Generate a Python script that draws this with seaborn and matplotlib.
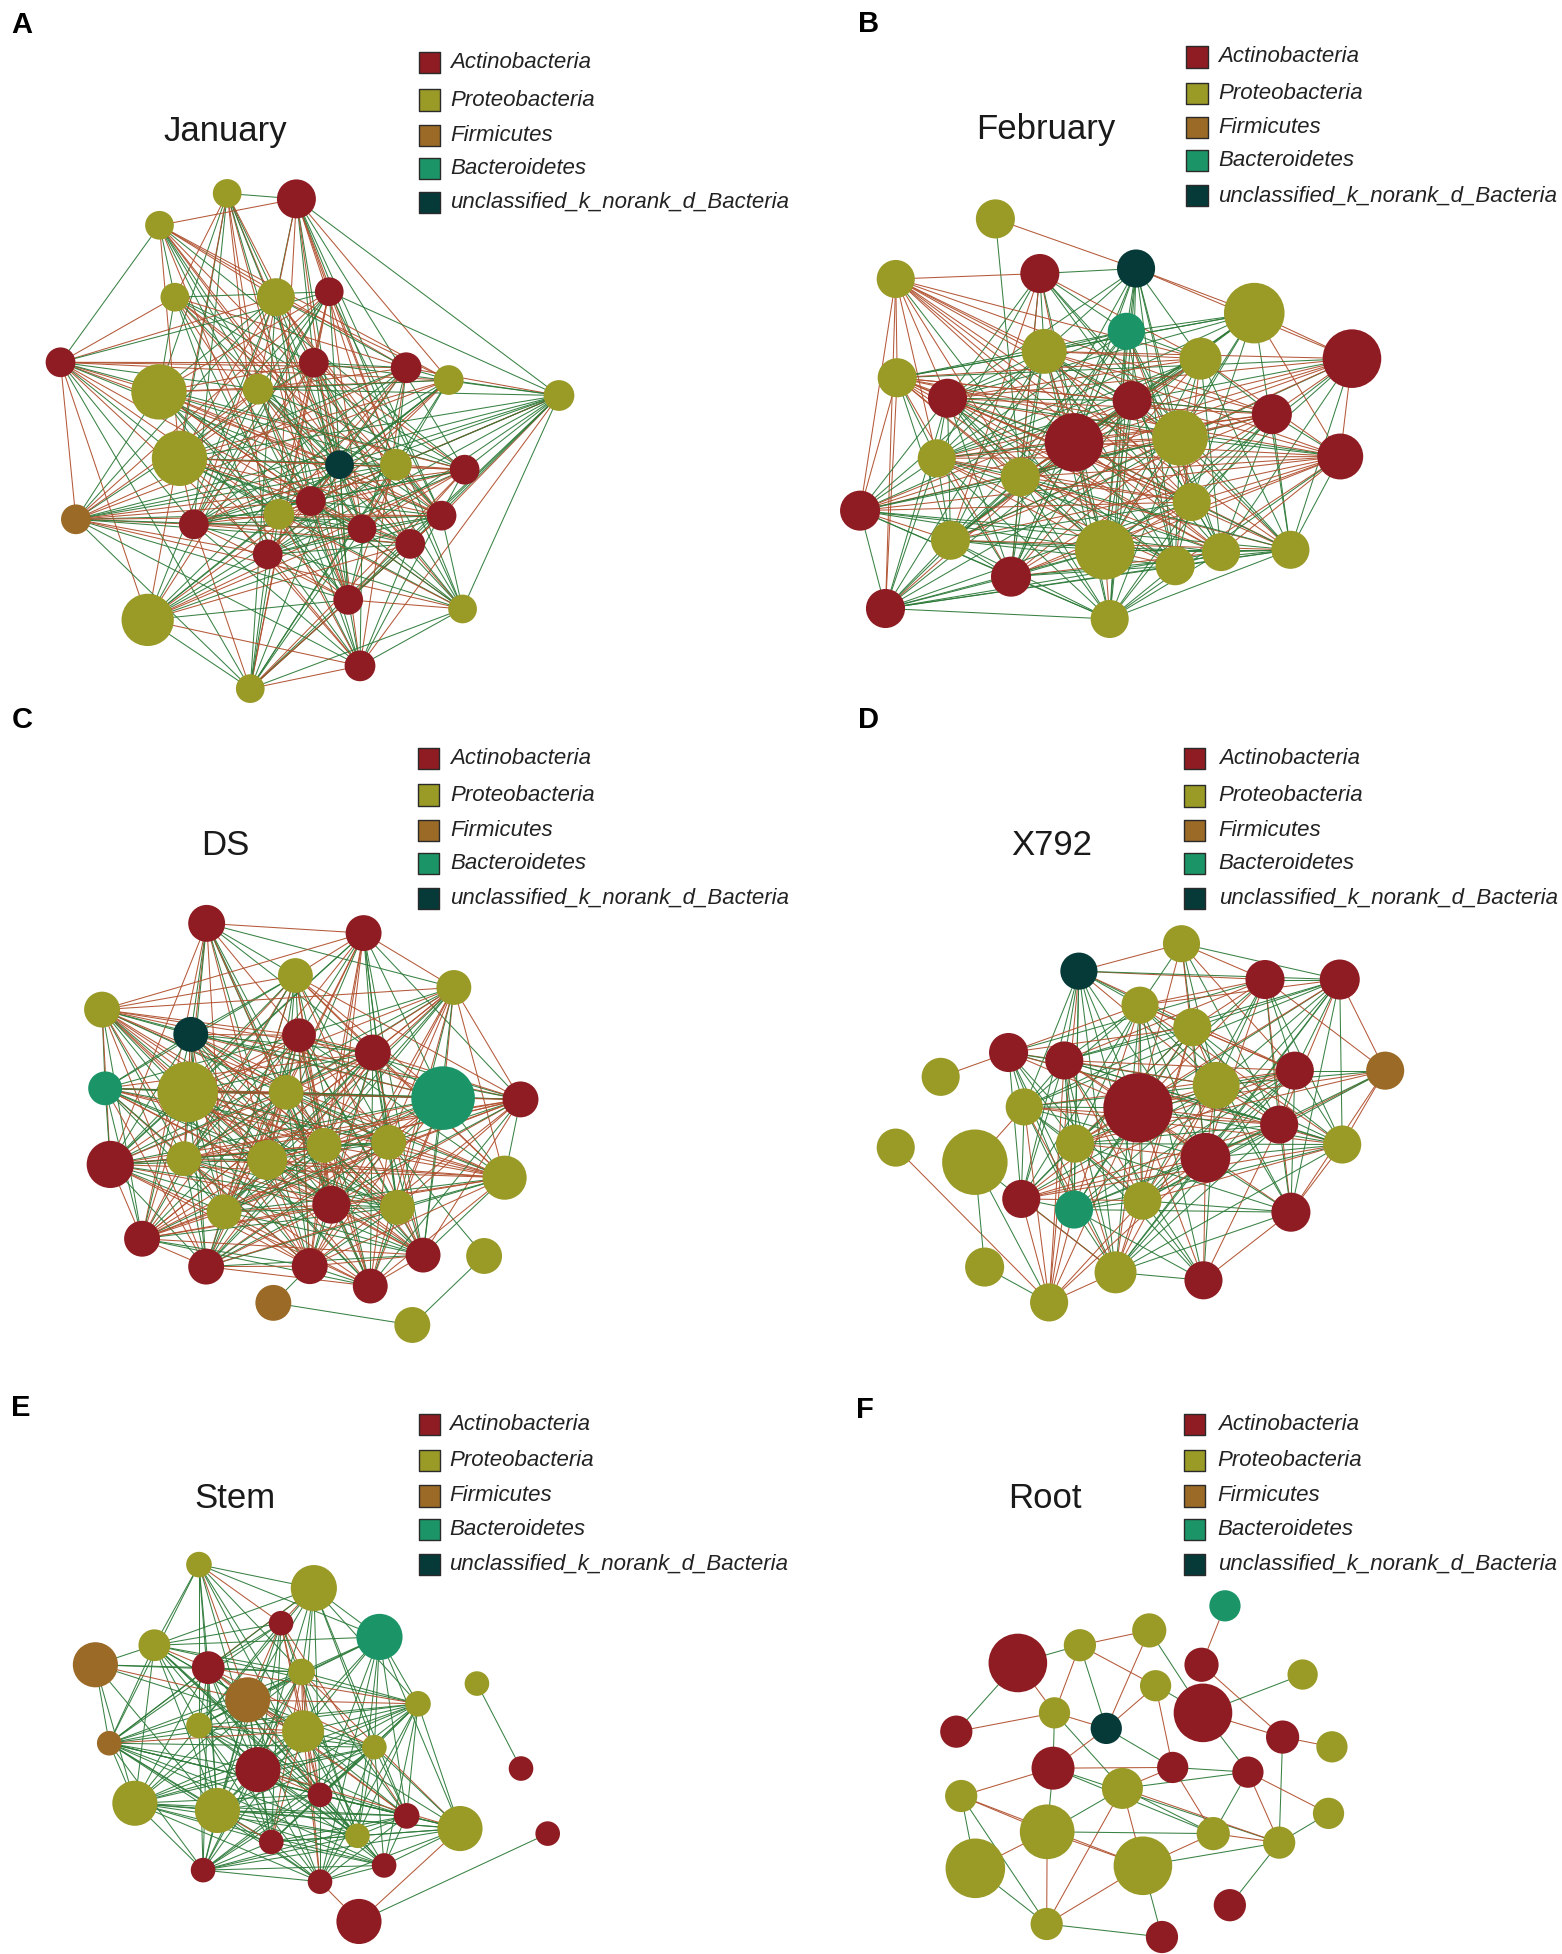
import numpy as np
import pandas as pd
import matplotlib
matplotlib.use("Agg")
import matplotlib.pyplot as plt
from matplotlib.collections import LineCollection
import seaborn as sns

sns.set_theme(style="white")
plt.rcParams['font.family'] = ['Liberation Sans', 'DejaVu Sans']

# ---------------- legend / categories ----------------
phyla = ["Actinobacteria", "Proteobacteria", "Firmicutes", "Bacteroidetes",
         "unclassified_k_norank_d_Bacteria"]
phylum_codes = ["A", "P", "F", "B", "U"]
phylum_colors = ["#8E1C22", "#9A9A27", "#9A6A26", "#1B9568", "#053A38"]
edge_colors = {"r": "#B0502E", "g": "#2E7B3A"}

panel_letters = ["A", "B", "C", "D", "E", "F"]
panel_titles = ["January", "February", "DS", "X792", "Stem", "Root"]

# ---------------- panel A : January ----------------
a_x = [443, 578, 311, 341, 538, 642, 118, 612, 792, 875, 1090, 310, 503, 350, 662,
       772, 906, 148, 378, 544, 606, 706, 861, 800, 522, 679, 902, 288, 702, 488]
a_y = [425, 437, 495, 653, 653, 641, 796, 797, 808, 835, 869, 861, 855, 1007, 1021,
       1021, 1032, 1141, 1152, 1130, 1101, 1162, 1133, 1195, 1218, 1318, 1338, 1362, 1463, 1513]
a_d = [56, 76, 56, 56, 74, 56, 58, 58, 60, 58, 60, 108, 60, 108, 56,
       62, 58, 58, 58, 60, 58, 56, 58, 58, 58, 58, 56, 102, 60, 56]
a_phy = list("PAPPPAAAAPPPPPUPAFAPAAAAAAPPAP")
a_edges = """
0: 1g 3r 4g 7r 11g 12r 13g 14r 18g 20r 21g 24r 25g 27r
1: 2r 4g 5r 7g 9r 10g 12r 14g 15r 16g 19r 22g 23r 26g 28r
2: 3g 4r 6g 8r 9r 12g 13r 14r 16g 19r 21g 22r 23r 25g
3: 5g 6r 7g 8r 11g 12r 14g 15r 16g 20r 22r 24g 28g
4: 6r 8g 9r 11g 13r 14g 15r 17g 18r 20g 22r 23g 25r 27g 29g
5: 6g 7r 10g 11r 12g 13g 15r 17r 18g 21r 22g 24r 25g 27g 29r
6: 7r 8r 9r 11r 12g 13g 14r 16g 17r 18g 19r 20r 22g 24r 27r 29g
7: 8g 10g 11r 13r 14g 16r 17g 18r 21r 22g 23r 25g 26g 27r 29r
8: 9g 10r 12r 13g 15g 17r 18g 19r 20g 24r 25g 27g 28r
9: 10g 11r 12g 13r 14g 17r 18g 19g 20r 21g 24r 27g 29g
10: 12g 13g 14g 15r 16g 17g 18g 19r 20g 21g 22r 23g 24g 25g 26g 28r 29g
11: 12r 14r 15g 16r 17g 19g 20r 21g 22r 23g 25g 26r 28g
12: 13r 14g 16g 17r 18g 20g 21r 22g 23r 25r 26g 28g
13: 14r 15g 16r 18r 19g 20r 21g 22r 23g 25r 26g 28r
14: 15g 16r 17g 18r 19g 20r 21g 22r 24r 25g 26r 27g 29g
15: 16r 17g 18g 19r 21r 22g 24g 25r 26g 27g 29g
16: 17r 18g 19r 20g 21r 24g 25r 27r 28g 29r
17: 18r 19g 20r 21g 22r 23g 24r 25g 26r 28g 29g
18: 19r 20g 21r 22g 23r 25r 26g 28g 29r
19: 20r 21g 22r 23g 25g 26r 28r 29g
20: 21r 22g 23r 25r 26g 27r 28g
21: 22g 23r 24g 26g 27r 28g 29g
22: 23r 24g 25r 26g 27g 29r
23: 24g 25r 26g 27r 28g 29g
24: 25r 27g 28r 29g
25: 26r 27g 28g 29r
26: 28g 29g
27: 28r 29g
28: 29r
"""

# ---------------- panel B : February ----------------
b_x = [400, 688, 491, 196, 930, 668, 1130, 500, 820, 199, 302, 680, 966, 561,
       778, 1106, 280, 451, 802, 123, 308, 624, 862, 768, 1004, 432, 175, 634]
b_y = [481, 590, 601, 613, 688, 728, 788, 772, 788, 830, 875, 880, 910, 972,
       962, 1003, 1007, 1048, 1103, 1122, 1187, 1208, 1213, 1243, 1208, 1267, 1337, 1360]
b_d = [80, 78, 80, 78, 124, 76, 120, 92, 86, 80, 80, 80, 82, 120,
       114, 94, 78, 80, 78, 82, 80, 122, 78, 80, 78, 82, 80, 78]
b_phy = list("PUAPPBAPPPAAAAPAPPPAPPPPPAAP")
b_edges = """
0: 1r 17g
1: 2g 4r 5g 6r 7g 8g 10g 11g 13g 14g 17g 18g 21g 23g 25g 27g
2: 3r 5g 7g 8r 10g 11g 13r 14g 16g 17g 20r 21g 24g 25r
3: 7r 8r 9r 10r 11r 12r 13r 14r 16r 17r 18r 19r 21g 22r 24r 26r
4: 5g 6r 7g 9g 10g 11r 13g 14g 15r 16g 17g 18g 20g 21g 24g
5: 7g 8g 9g 10g 13g 14g 16g 17g 18r 20g 21g 22g 23g 25g 27g
6: 7r 9g 10r 11g 12r 13r 14g 15r 16r 17r 18g 20r 21g 22g 24g
7: 8r 9g 10g 11g 12r 13g 14g 15r 16g 17g 18r 19g 20g 21r 22g 23g 25g 26g 27g
8: 9r 10r 11g 12g 13g 14g 15r 16g 17r 19g 20r 21g 22g 23r 24g 25r 26g
9: 10r 11r 12r 13r 14r 15r 16g 17r 18r 19r 20g 21r 22r 23r 25r 26r
10: 11g 12r 13g 14r 15g 16g 17g 18r 19g 20g 21g 22r 23g 24r 25g 26g 27g
11: 12g 13g 14g 15r 16g 17r 18g 19r 20g 21g 22g 23g 24r 25g 27g
12: 13r 14g 15g 16r 17r 18g 19r 20r 21g 22g 24g 25r 27g
13: 14r 15r 16g 17r 18g 19r 20g 21g 22r 23g 24r 25g 26r 27g
14: 15g 16r 17g 18r 19g 20g 21r 22g 23g 24g 25r 26g 27g
15: 16r 17r 18r 19r 20r 21r 22r 23r 24g 25r 27g
16: 17g 18r 19g 20g 21r 22g 23r 24r 25g 26g 27g
17: 18r 19g 20g 21g 22r 23g 24g 25g 26g 27g
18: 19r 20g 21r 22g 23g 24g 25r 26g 27g
19: 20r 21g 22g 24g 25g 26g 27g
20: 21g 22g 23g 24r 25g 26g 27g
21: 22g 23r 24g 25g 26g 27r
22: 23g 24g 25r 26g 27g
23: 24g 25g 26g 27g
24: 25g 26g 27g
25: 26g 27g
26: 27g
"""

# ---------------- panel C : DS ----------------
c_x = [403, 709, 576, 885, 199, 372, 583, 727, 205, 366, 558, 864, 1015, 215, 359,
       521, 632, 758, 984, 437, 646, 775, 277, 402, 604, 825, 722, 944, 533, 804]
c_y = [505, 527, 623, 650, 700, 756, 758, 797, 878, 886, 887, 900, 903, 1050, 1037,
       1040, 1007, 1000, 1080, 1157, 1141, 1147, 1218, 1281, 1280, 1255, 1325, 1257, 1363, 1413]
c_d = [72, 70, 68, 68, 70, 68, 66, 70, 66, 118, 68, 124, 70, 92, 68,
       78, 68, 68, 86, 68, 74, 68, 70, 70, 70, 68, 68, 70, 70, 70]
c_phy = list("AAPPPUAABPPBAAPPPPPPAPAAAAAPFP")
c_edges = """
0: 1r 2g 3g 5g 6r 7g 9r 10g 13r 14g 15r 16g 19r 20g 22r 24g 26r
1: 2r 3r 4r 6g 7g 9g 10r 11g 12g 13g 14r 15g 16r 17g 19r 20r 21g 24r 25g
2: 4r 5g 7r 8g 9r 10g 11r 12r 13g 14r 15g 16r 17g 18r 19g 20r 22g 23r 24g 25r 26g
3: 4r 6g 7r 9r 10g 11r 12r 13g 14r 15r 16g 17r 18r 19g 20r 21g 22r 23g 24r 25g 26r
4: 5g 6r 7r 8g 9r 10r 11g 12r 13r 14g 15r 16r 17g 18r 19r 20g 21r 22g 23r 24g 25r 26g
5: 6r 7g 8g 9g 10r 11r 12g 13g 14r 15g 16r 17g 18r 19r 20g 21r 22g 23g 24r 25g
6: 7r 8g 9r 10g 11r 12g 13r 14g 15r 16g 17r 18g 19r 20r 21g 22r 23g 24r 25g 26r
7: 8r 9g 10r 11g 12r 13g 14r 15g 16r 17g 18r 19g 20r 21g 22r 23r 24g 25r 26g
8: 9g 10r 11r 12g 13g 14r 15g 16r 17g 18r 19g 20r 21g 22g 23r 24g 25r
9: 10r 11g 12r 13g 14r 15g 16r 17g 18r 19g 20r 21g 22r 23g 24r 25r 26g
10: 11r 12g 13r 14g 15r 16g 17r 18g 19r 20g 21r 22g 23r 24g 25r 26g
11: 12r 13g 14r 15g 16r 17r 18g 19r 20g 21r 22g 23r 24r 25g 26r
12: 13r 14r 15r 16r 17g 18g 19r 20r 21r 22r 23g 24r 25r 26g
13: 14r 15g 16r 17g 18r 19g 20r 21g 22r 23g 24r 25g 26r
14: 15g 16r 17g 18r 19g 20r 21g 22r 23g 24r 25g 26r
15: 16r 17g 18r 19g 20r 21g 22r 23g 24r 25g 26r
16: 17g 18r 19g 20r 21g 22r 23g 24r 25g 26r
17: 18r 19g 20r 21g 22r 23g 24r 25g 26r 27g
18: 19g 20r 21g 22r 23g 24r 25g 26r
19: 20r 21g 22r 23g 24r 25g 26r
20: 21g 22r 23r 24g 25r 26g
21: 22g 23r 24g 25r 26g
22: 23r 24g 25r 26g
23: 24r 25g 26r
24: 25r 26g 28g
25: 26r
27: 29g
28: 29g
"""

# ---------------- panel D : X792 ----------------
d_x = [781, 571, 952, 1105, 696, 803, 427, 541, 288, 1013, 1198, 852, 459, 692,
       981, 196, 358, 563, 830, 1110, 453, 561, 701, 1005, 378, 646, 826, 510]
d_y = [551, 613, 632, 632, 690, 740, 797, 815, 852, 838, 838, 871, 920, 922,
       960, 1012, 1045, 1003, 1035, 1005, 1128, 1152, 1132, 1158, 1282, 1294, 1312, 1362]
d_d = [76, 76, 80, 82, 76, 78, 80, 78, 78, 78, 78, 96, 76, 142,
       78, 78, 134, 78, 102, 78, 78, 78, 78, 80, 80, 86, 78, 78]
d_phy = list("PUAAPPAAPAFPPAAPPPAPABPAPPAP")
d_edges = """
0: 1r 2r 3g 4g 5g 9r 11g 13r 14g 18r
1: 2r 3g 4g 5g 7g 9r 11r 12g 13g 17g 18g 20g 21g 22g 25g 27r
2: 3g 4r 5r 6g 7r 9g 10r 11g 13r 14g 17g 18r 19g 22g 23r
3: 4r 5g 7g 9g 10r 11g 12g 13g 14r 17r 18g 19g 22g 23g 25g
4: 5r 6r 7g 9r 11g 12g 13r 14g 17g 18g 19r 20g 21r 22g 25g 26g
5: 6r 7g 9r 11r 12g 13r 14g 17r 18g 19g 20g 21g 22r 23g 25r
6: 7r 8r 11g 12g 13r 14g 17g 19r 20g 21g 22g 25g
7: 9r 11r 12g 13r 14g 17g 18r 19g 20g 21g 22r 25g 26g 27r
9: 10g 11g 12r 13r 14g 17r 18g 19g 20r 21g 22g 23g 25g
10: 11g 13r 14r 17r 18g 19r 22g 23r
11: 12g 13r 14r 17g 18r 19g 20g 21g 22r 23g 25r 26g
12: 13g 14r 17g 18g 19r 20g 21g 22g 25r 27r
13: 14r 17r 18r 19g 20r 21g 22r 23r 25r 26r 27r
14: 17g 18r 19g 20r 21g 22g 23g 25g 26r
15: 27r
16: 12r 24g 25g 27g
17: 18r 19g 20g 21g 22r 23g 25r 26g 27r
18: 19g 20r 21g 22r 23g 25g 26r 27r
19: 20r 21g 22r 23r 25g
20: 21g 22r 25r 27r
21: 22g 23g 25g 26g 27r
22: 23g 25r 26g 27r
23: 25g 26r
24: 27g
25: 26g 27r
"""

# ---------------- panel E : Stem ----------------
e_x = [388, 612, 548, 740, 301, 186, 406, 588, 930, 483, 815, 388, 591, 213, 730,
       503, 1016, 624, 263, 424, 793, 897, 697, 529, 1068, 396, 749, 624, 700]
e_y = [483, 548, 645, 683, 706, 760, 768, 780, 812, 857, 868, 928, 944, 977, 988,
       1050, 1047, 1120, 1143, 1163, 1178, 1213, 1233, 1250, 1227, 1328, 1315, 1360, 1470]
e_d = [50, 90, 48, 90, 62, 88, 64, 52, 48, 88, 50, 50, 82, 48, 48,
       88, 48, 48, 88, 88, 50, 88, 48, 48, 48, 48, 48, 48, 88]
e_phy = list("PPABPFAPPFPPPFPAAAPPAPPAAAAAA")
e_edges = """
0: 1g 2r 3g 4g 6g 7g 9r 11g 12g 13g 15g 17g 19g
1: 2r 3g 4g 6r 7g 9g 10g 11g 12g 13g 14g 15g 17g 20g
2: 4g 6g 7r 9r 11g 12r 13g 15g 17r 19g 20r 22g 23g
3: 4g 7g 9g 10g 11g 12g 14g 15g 17g 20g 21g 22g 27g
4: 5g 6r 7g 9g 10g 11g 12g 13g 15g 17g 18g 19g 22g 26g
5: 6g 7g 9r 12g 13g 18g 19g
6: 7g 9r 10r 11g 12g 13g 14r 15g 17g 18g 19g 20r 22g 23g 25g
7: 9g 10g 11g 12r 13g 15r 17r 18g 19g 20g 21r 22g 23r 25g 27r
8: 16g
9: 10r 11g 12r 13g 14g 15g 17r 18g 19g 20r 22g 23g 25g 27g
10: 11g 12g 13g 14g 15g 17g 18g 19g 20g 21g 22g 23g 25g 26g 27g
11: 12r 13g 14g 15g 17g 18g 19g 20g 22g 23g 25g 27g
12: 13r 14g 15g 17r 18g 19g 20g 21g 22g 23r 25g 26g 27r
13: 14g 15g 17g 18g 19g 20g 21g 22g 23g 25g 26g 27g
14: 15g 17g 18g 19g 20g 21g 22g 23g 25g 26g 27g
15: 17r 18g 19g 20g 21r 22g 23g 25g 26g 27g
17: 18g 19g 20g 21g 22g 23g 25g 26g 27g
18: 19g 20g 21g 22g 23g 25g 26g 27g
19: 20g 21g 22g 23r 25g 26g 27g
20: 21g 22g 23g 25g 26g 27g
21: 22g 23g 25g 26g 27g 28r
22: 23g 25g 26g 27g
23: 25g 26g 27g
24: 28g
25: 26g 27g
26: 27g
27: 28r
"""

# ---------------- panel F : Root ----------------
f_x = [870, 715, 573, 446, 822, 1029, 728, 825, 521, 320, 627, 988, 1089, 518,
       763, 917, 330, 660, 1082, 506, 846, 981, 359, 702, 880, 505, 741]
f_y = [597, 665, 706, 755, 760, 787, 818, 893, 893, 945, 936, 960, 987, 1046,
       1044, 1057, 1123, 1102, 1171, 1222, 1227, 1252, 1323, 1316, 1425, 1477, 1513]
f_d = [64, 70, 66, 120, 70, 62, 64, 120, 64, 66, 64, 68, 64, 88,
       64, 64, 66, 84, 64, 112, 68, 66, 122, 120, 66, 66, 66]
f_phy = list("BPPAAPPAPAUAPAAAPPPPPPPPAPA")
f_edges = """
0: 4r
1: 2r 7g 10r
2: 3g 6r 8r 10g
3: 8r 9g
4: 11r
5: 7g
6: 7g 10r 14r
7: 11r 15g
8: 9r 10r 13g 17g
10: 13r 14g
11: 12r 21g
13: 14r 16r 19g 20g 21g
14: 15g 17r 20r
15: 17g 18r 20g 21r
16: 19r 22g 23r 25g
17: 19g 20g 21r 23r 25r
18: 21g
19: 20g 22r 23r 25r
20: 21r 23r
21: 23g 24g
22: 25g
23: 25r 26g
25: 26g
"""

# legend positions / titles (in each panel's own layout units)
legend_sq_x = [838, 813, 836, 808, 837, 808]
legend_txt_x = [878, 856, 878, 857, 876, 855]
legend_rows = [[137, 220, 298, 370, 445], [125, 205, 280, 352, 430],
               [133, 215, 295, 370, 448], [133, 217, 295, 370, 448],
               [96, 195, 293, 385, 482], [96, 195, 293, 385, 482]]
title_pos = [(440, 290), (503, 285), (440, 328), (515, 328), (458, 300), (502, 300)]
letter_pos = [(22, 55), (118, 52), (22, 45), (118, 45), (22, 50), (115, 55)]

# panel crop boxes in figure pixels (x0, y0, w, h)
boxes = [(0, 0, 800, 710), (800, 0, 762, 710), (0, 700, 800, 690),
         (800, 700, 762, 690), (0, 1390, 800, 564), (800, 1390, 762, 564)]

panels = [
    (a_x, a_y, a_d, a_phy, a_edges),
    (b_x, b_y, b_d, b_phy, b_edges),
    (c_x, c_y, c_d, c_phy, c_edges),
    (d_x, d_y, d_d, d_phy, d_edges),
    (e_x, e_y, e_d, e_phy, e_edges),
    (f_x, f_y, f_d, f_phy, f_edges),
]

FW, FH = 1562, 1954
U = 1560.0  # layout units per panel side
fig = plt.figure(figsize=(FW / 100, FH / 100), dpi=100)
fig.patch.set_facecolor("white")

code2name = dict(zip(phylum_codes, phyla))
palette = dict(zip(phyla, phylum_colors))


def parse_edges(s):
    out = []
    for line in s.strip().splitlines():
        src, rest = line.split(":")
        i = int(src)
        for tok in rest.split():
            out.append((i, int(tok[:-1]), tok[-1]))
    return out


for k, ((x, y, d, phy, es), (x0, y0, w, h)) in enumerate(zip(panels, boxes)):
    ax = fig.add_axes([x0 / FW, 1 - (y0 + h) / FH, w / FW, h / FH])
    ax.patch.set_alpha(0)
    px_per_unit = w / U
    df = pd.DataFrame({"x": x, "y": y, "d": d,
                       "phylum": [code2name[c] for c in phy]})
    df["area"] = (df["d"] * px_per_unit * 0.72) ** 2

    # edges
    edges = parse_edges(es)
    segs = [[(x[i], y[i]), (x[j], y[j])] for i, j, c in edges]
    cols = [edge_colors[c] for i, j, c in edges]
    lc = LineCollection(segs, colors=cols, linewidths=0.75, alpha=0.95, zorder=1)
    lc.set_clip_on(False)
    ax.add_collection(lc)

    # nodes
    amin, amax = df["area"].min(), df["area"].max()
    sns.scatterplot(data=df, x="x", y="y", hue="phylum", palette=palette,
                    size="area", sizes=(amin, amax), size_norm=(amin, amax),
                    legend=False, linewidth=0, ax=ax, zorder=3)
    for coll in ax.collections:
        coll.set_clip_on(False)

    # legend
    lx, tx, rows = legend_sq_x[k], legend_txt_x[k], legend_rows[k]
    ax.scatter([lx] * 5, rows, marker="s", s=235, c=phylum_colors,
               edgecolors="#2a2a2a", linewidths=1.0, zorder=4, clip_on=False)
    for name, ry in zip(phyla, rows):
        ax.text(tx, ry, name, fontsize=16, style="italic", color="#222222",
                ha="left", va="center", zorder=4)

    # title & letter
    ax.text(title_pos[k][0], title_pos[k][1], panel_titles[k], fontsize=25,
            color="#1a1a1a", ha="center", va="center")
    ax.text(letter_pos[k][0], letter_pos[k][1], panel_letters[k], fontsize=21,
            fontweight="bold", color="black", ha="left", va="center")

    ax.set_xlim(0, U)
    ax.set_ylim(U, 0)
    ax.set_axis_off()

fig.savefig("out.png", dpi=100, facecolor="white")
